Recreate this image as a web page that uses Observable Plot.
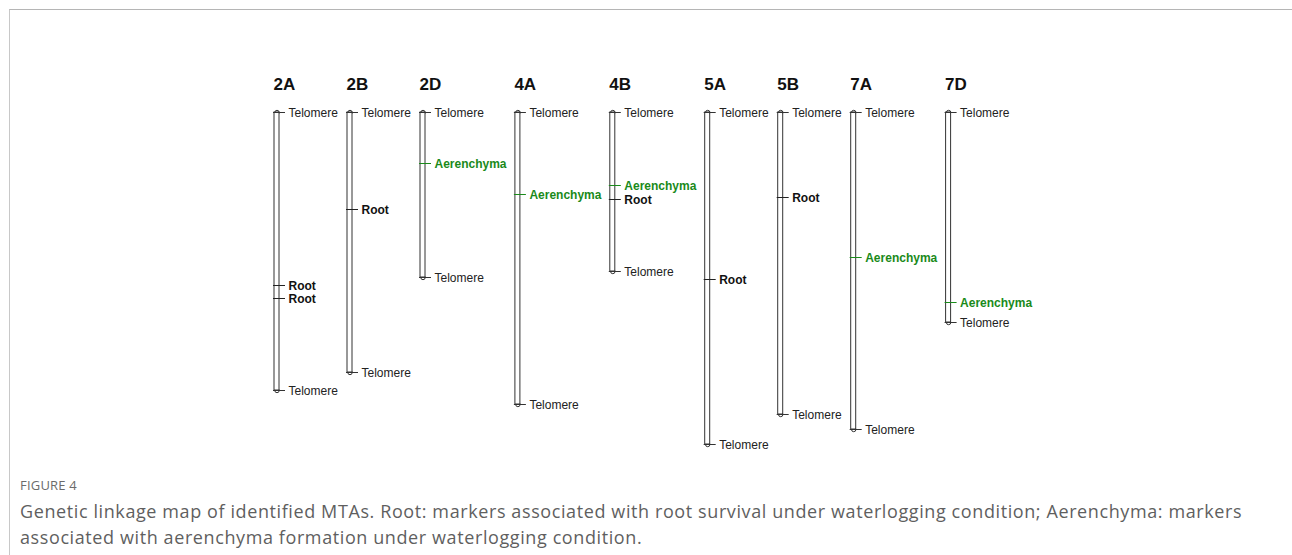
<!DOCTYPE html>
<html>
<head>
<meta charset="utf-8">
<script src="https://cdn.jsdelivr.net/npm/d3@7"></script>
<script src="https://cdn.jsdelivr.net/npm/@observablehq/plot@0.6"></script>
<style>
  html, body { margin: 0; padding: 0; background: #fff; }
  #page { position: relative; width: 1292px; height: 555px; overflow: hidden; background: #fff; }
  #frame { position: absolute; left: 9px; top: 9px; right: -2px; bottom: -2px;
           border-top: 1px solid #b5b5b5; border-left: 1px solid #c8c8c8; z-index: 2; pointer-events: none; }
  #chart { position: absolute; left: 0; top: 0; }
  #chart svg { background: transparent !important; }
  #fig { position: absolute; left: 20px; top: 476px; font-family: "Open Sans", sans-serif;
         font-size: 13px; color: #6b6b6b; letter-spacing: 0.2px; }
  #cap { position: absolute; left: 20px; top: 498px; font-family: "Open Sans", sans-serif;
         font-size: 18px; line-height: 26px; letter-spacing: 0.6px; color: #5f5f5f; white-space: nowrap; }
</style>
</head>
<body>
<div id="page">
  <div id="frame"></div>
  <div id="chart"></div>
  <div id="fig">FIGURE 4</div>
  <div id="cap">Genetic linkage map of identified MTAs. Root: markers associated with root survival under waterlogging condition; Aerenchyma: markers<br>associated with aerenchyma formation under waterlogging condition.</div>
</div>
<script>
// Chromosomes and their lengths (map units)
const chromosomes = ["2A", "2B", "2D", "4A", "4B", "5A", "5B", "7A", "7D"];
const lengths = [278, 260, 165, 292, 159, 332, 302, 317, 210];

// Marker-trait associations
const markerChrom = ["2A", "2A", "2B", "2D", "4A", "4B", "4B", "5A", "5B", "7A", "7D"];
const markerPos   = [173, 186, 97, 51, 82, 73, 87, 167, 85, 145, 190];
const markerTrait = ["Root", "Root", "Root", "Aerenchyma", "Aerenchyma", "Aerenchyma", "Root", "Root", "Root", "Aerenchyma", "Aerenchyma"];

const endLabel = "Telomere";
const green = "#1a8a1a";

// Slot layout: a chromosome with a long label gets a wider slot
const hasLong = new Set(markerChrom.filter((c, i) => markerTrait[i] === "Aerenchyma"));
const slot = [];
chromosomes.forEach((c, i) => {
  slot.push(i === 0 ? 0 : slot[i - 1] + (hasLong.has(chromosomes[i - 1]) ? 1.3 : 1));
});
const chroms = chromosomes.map((c, i) => ({name: c, pos: slot[i], length: lengths[i]}));
const posOf = Object.fromEntries(chroms.map(d => [d.name, d.pos]));

const ends = chroms.flatMap(d => [
  {pos: d.pos, y: 0, label: endLabel},
  {pos: d.pos, y: d.length, label: endLabel}
]);
const markers = markerChrom.map((c, i) => ({pos: posOf[c], y: markerPos[i], label: markerTrait[i]}));

const maxSlot = slot[slot.length - 1];
const plot = Plot.plot({
  width: 1292,
  height: 460,
  marginLeft: 274,
  marginRight: 1292 - (274 + 73 * maxSlot),
  marginTop: 112,
  marginBottom: 16,
  x: {domain: [0, maxSlot], axis: null},
  y: {domain: [0, d3.max(lengths)], reverse: true, axis: null},
  style: {fontFamily: "Arial, 'Liberation Sans', sans-serif", background: "transparent"},
  marks: [
    // telomere caps
    Plot.dot(ends, {x: "pos", y: "y", dx: 2.5, r: 2.2, fill: "#fff", stroke: "#333", strokeWidth: 1}),
    // chromosome bars
    Plot.rect(chroms, {x1: "pos", x2: "pos", y1: 0, y2: "length", insetLeft: 0, insetRight: -5,
      fill: "#fff", stroke: "#333", strokeWidth: 1}),
    // ticks
    Plot.ruleY(ends, {x1: "pos", x2: "pos", y: "y", insetLeft: -1, insetRight: -11, stroke: "#333", strokeWidth: 1}),
    Plot.ruleY(markers, {x1: "pos", x2: "pos", y: "y", insetLeft: -1, insetRight: -11,
      stroke: d => d.label === "Aerenchyma" ? green : "#222", strokeWidth: 1}),
    // labels
    Plot.text(ends, {x: "pos", y: "y", text: "label", dx: 14, dy: 1, textAnchor: "start", fontSize: 12, fill: "#222"}),
    Plot.text(markers, {x: "pos", y: "y", text: "label", dx: 14, dy: 1, textAnchor: "start", fontSize: 12,
      fontWeight: "bold", fill: d => d.label === "Aerenchyma" ? green : "#111"}),
    // chromosome names
    Plot.text(chroms, {x: "pos", y: 0, text: "name", dx: -1, dy: -28, textAnchor: "start",
      fontSize: 17, fontWeight: "bold", fill: "#111"})
  ]
});
document.getElementById("chart").appendChild(plot);
</script>
</body>
</html>
